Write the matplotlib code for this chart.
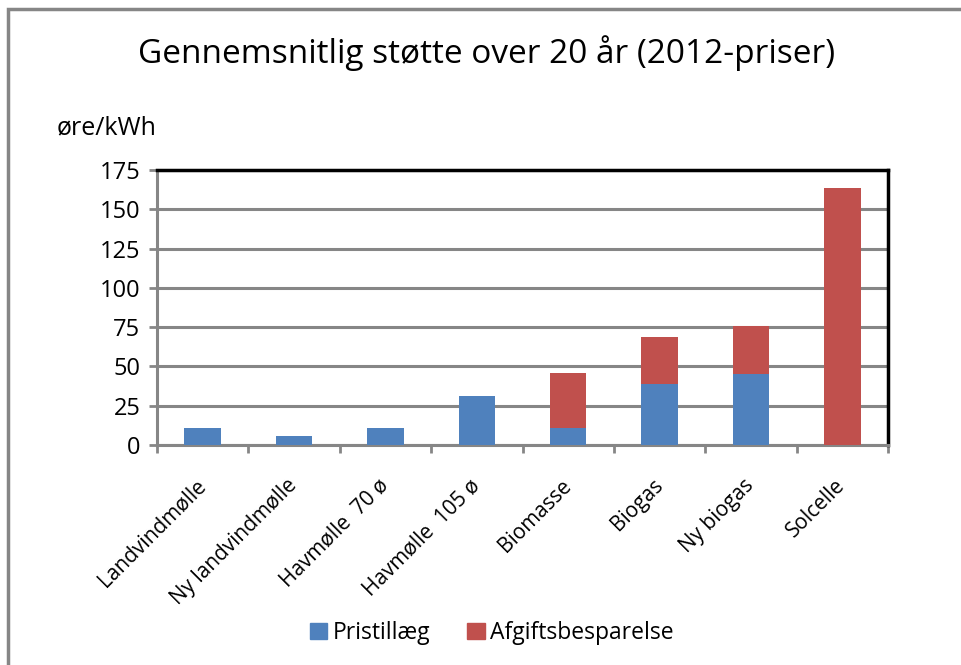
import numpy as np
import matplotlib
matplotlib.use("Agg")
from matplotlib import pyplot as plt
from matplotlib.patches import Rectangle, Patch

categories = ["Landvindmølle", "Ny landvindmølle", "Havmølle  70 ø", "Havmølle  105 ø",
              "Biomasse", "Biogas", "Ny biogas", "Solcelle"]
pristillaeg = [11, 6, 11, 31.5, 11, 39, 45.5, 0]
afgift = [0, 0, 0, 0, 35, 30, 30, 163.5]
yticks = [0, 25, 50, 75, 100, 125, 150, 175]

blue = "#4f81bd"
red = "#c0504d"
grey = "#868686"

plt.rcParams['font.family'] = ['Open Sans', 'DejaVu Sans']

fig = plt.figure(figsize=(9.61, 6.65), dpi=100)
ax = fig.add_axes([157/961, 1-445/665, (888-157)/961, (445-170)/665])

x = np.arange(len(categories))
ax.bar(x, pristillaeg, width=0.4, color=blue, zorder=3)
ax.bar(x, afgift, width=0.4, bottom=pristillaeg, color=red, zorder=3)

ax.set_xlim(-0.5, len(categories) - 0.5)
ax.set_ylim(0, 175)
ax.set_yticks(yticks)
ax.set_yticklabels([str(v) for v in yticks], fontsize=17)
ax.yaxis.grid(True, color=grey, linewidth=2.2, zorder=0)

ax.set_xticks(np.arange(len(categories) + 1) - 0.5)
ax.set_xticklabels([])
ax.set_xticks(x, minor=True)
ax.set_xticklabels(categories, minor=True, rotation=45, ha="right", va="center",
                   rotation_mode="anchor", fontsize=15)
ax.tick_params(axis="x", which="minor", length=0, pad=27)
ax.tick_params(axis="x", which="major", length=6, width=2, color=grey, direction="out")
ax.tick_params(axis="y", length=6, width=2, color=grey, direction="out", pad=6)

for s in ["left", "bottom"]:
    ax.spines[s].set_color(grey)
    ax.spines[s].set_linewidth(2.2)
for s in ["top", "right"]:
    ax.spines[s].set_color("black")
    ax.spines[s].set_linewidth(2.5)

fig.text(487/961, 1-53/665, "Gennemsnitlig støtte over 20 år (2012-priser)",
         ha="center", va="center", fontsize=24)
fig.text(57/961, 1-128/665, "øre/kWh", ha="left", va="center", fontsize=18)

handles = [Patch(color=blue, label="Pristillæg"), Patch(color=red, label="Afgiftsbesparelse")]
fig.legend(handles=handles, loc="center", bbox_to_anchor=(492/961, 1-633/665), ncol=2,
           frameon=False, fontsize=16.5, handlelength=0.75, handleheight=0.75,
           handletextpad=0.25, columnspacing=1.6)

fig.patches.append(Rectangle((8/961, -0.1), 1.2, 1 - 9/665 + 0.1, transform=fig.transFigure,
                             fill=False, edgecolor=grey, linewidth=2.5))

fig.savefig("out.png", dpi=100)
